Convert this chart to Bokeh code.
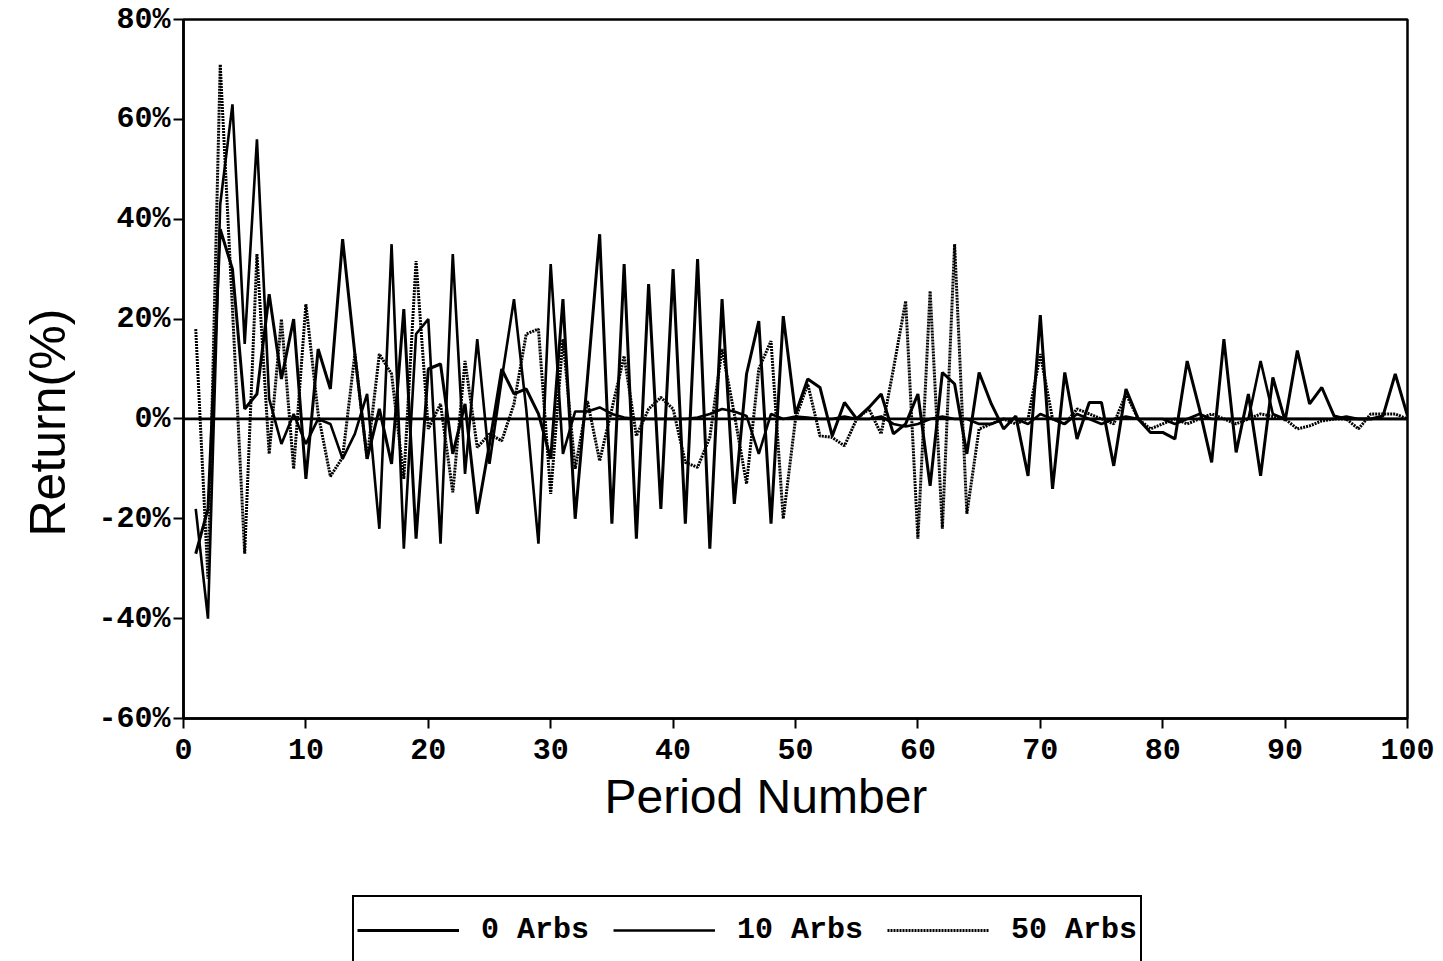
from bokeh.plotting import figure
from bokeh.layouts import column
from bokeh.models import Range1d, Span, Legend, LegendItem, PrintfTickFormatter, FixedTicker, Title
from bokeh.embed import file_html
from bokeh.resources import INLINE

periods = list(range(1, 101))

arbs0 = [-27, -18, 38, 30, 2, 5, 25, 8, 20, -12,
         14, 6, 36, 13, -8, 2, -9, 22, -24, 10,
         11, -7, 3, -19, -5, 10, 5, 6, 1, -8,
         24, -20, 8, 37, -21, 31, -24, 27, -18, 30,
         -21, 32, -26, 24, -17, 9, 19.6, -21, 20.6, 1,
         8, 6.3, -3.4, 3.3, 0, 2.3, 5, -3, -1, 5,
         -13.4, 9.3, 7, -7, 9.3, 3, -2, 0.6, -11.4, 20.8,
         -14, 9.3, -4, 3.3, 3.3, -9.4, 6, 0, -2.7, -2.7,
         -4, 11.6, 2, -8.7, 16, -6.7, 5, -11.4, 8.3, -0.4,
         13.7, 3, 6.3, 0.6, 0, 0, 0, 0.6, 9, 0.6]

arbs10 = [-18, -40, 43, 63, 15, 56, 4, -5, 1, -5,
          0, -1, -8, -3, 5, -22, 35, -26, 17, 20,
          -25, 33, -11, 16, -9, 8, 24, 2, -25, 31,
          -7, 1.5, 1.5, 2.3, 1, 0.3, 0, 0, 0, 0,
          0, 0.3, 1, 2, 1.5, 0.6, -7, 1, 0, 0.5,
          0.3, 0, 0, 0.5, 0, 0, 0.5, -1, -1.5, -1,
          0, 0.5, 0, 0, -1, -1, 0, 0, -1, 1,
          0, -1, 1, 0, -1, 0, 0.5, 0, 0, 0,
          -1, 0, 1, 0, 0, 0, 0, 11.6, 1, 0,
          0, 0, 0, 0, 0.5, 0, 0, 0, 0, 0]

arbs50 = [18, -32, 71, 22, -27, 33, -7, 20, -10, 23,
          1, -11.5, -7.7, 13, -8, 13, 9, -12, 31.6, -2,
          3, -14.7, 11.6, -5.7, -3, -4.4, 3, 17, 18, -15,
          16, -10, 3.6, -8.4, 2, 12.6, -3.4, 2, 4.3, 2,
          -8.7, -9.7, -3.7, 14, 1, -13, 10, 15.6, -20, 0,
          7, -3.4, -3.7, -5.4, 0, 2, -3, 10, 23.6, -24,
          25.6, -22, 35, -19, -2, -1, 0, -1, 0, 13,
          0, -1, 2, 1, 0, -1, 5, 0, -2, -1,
          0, -1, 0, 1, 0, -1, 0, 1, 0.5, 0,
          -2, -1.4, -0.4, 0, 0, -2, 1, 1, 1, 0]

series_labels = ["0 Arbs", "10 Arbs", "50 Arbs"]
series_values = [arbs0, arbs10, arbs50]
x_ticks = [0, 10, 20, 30, 40, 50, 60, 70, 80, 90, 100]
y_ticks = [-60, -40, -20, 0, 20, 40, 60, 80]

styles = [dict(line_color="black", line_width=3.0),
          dict(line_color="black", line_width=2.6),
          dict(line_color="black", line_width=3.0, line_dash="2 1")]

MAIN_H = 860
FRAME_LEFT = 183
p = figure(width=1443, height=MAIN_H, output_backend="svg", toolbar_location=None,
           x_range=Range1d(0, 100), y_range=Range1d(-60, 80),
           min_border_left=FRAME_LEFT, min_border_right=36, min_border_top=19,
           min_border_bottom=MAIN_H - 718)

p.grid.visible = False
p.outline_line_color = "black"
p.outline_line_width = 2.5
p.background_fill_color = "white"
p.border_fill_color = "white"

for vals, st in zip(series_values, styles):
    p.line(periods, vals, **st)

p.add_layout(Span(location=0, dimension="width", line_color="black", line_width=2.8))

for ax in (p.xaxis[0], p.yaxis[0]):
    ax.axis_line_width = 2.5
    ax.axis_line_color = "black"
    ax.major_tick_line_width = 2
    ax.major_tick_out = 10
    ax.major_tick_in = 0
    ax.minor_tick_out = 0
    ax.minor_tick_in = 0
    ax.major_label_text_font = "Liberation Mono"
    ax.major_label_text_font_style = "bold"
    ax.major_label_text_font_size = "30px"
    ax.major_label_text_color = "black"

p.xaxis.ticker = FixedTicker(ticks=x_ticks)
p.yaxis.ticker = FixedTicker(ticks=y_ticks)
p.yaxis.formatter = PrintfTickFormatter(format="%d%%")
p.xaxis.major_label_standoff = 10
p.yaxis.major_label_standoff = 3

ytitle = Title(text="Return(%)", align="left", offset=182, vertical_align="top",
               text_font="Liberation Sans", text_font_style="normal",
               text_font_size="50px", text_color="black", standoff=36)
p.add_layout(ytitle, "left")
xtitle = Title(text="Period Number", align="left", offset=421, vertical_align="top",
               text_font="Liberation Sans", text_font_style="normal",
               text_font_size="48px", text_color="black", standoff=16)
p.add_layout(xtitle, "below")

# legend panel (its frame is aligned with the main frame by the column layout);
# the lines drawn here lie outside its ranges and only feed the legend samples
LEG_H = 961 - MAIN_H
q = figure(width=1443, height=LEG_H, output_backend="svg", toolbar_location=None,
           x_range=Range1d(-3, -2), y_range=Range1d(-3, -2),
           x_axis_type=None, y_axis_type=None, min_border=0)
q.grid.visible = False
q.outline_line_color = None
rs = [q.line(periods, vals, **st) for vals, st in zip(series_values, styles)]
LEG_TOP = 897
LEG_BOX_H = 2 * 4 + 60
legend = Legend(items=[LegendItem(label=lab, renderers=[r]) for lab, r in zip(series_labels, rs)],
                orientation="horizontal",
                location=(352 - FRAME_LEFT, 961 - (LEG_TOP + LEG_BOX_H)),
                glyph_width=102, glyph_height=60, label_standoff=22, spacing=24,
                padding=3, margin=0,
                label_text_font="Liberation Mono", label_text_font_style="bold",
                label_text_font_size="30px", label_text_color="black",
                border_line_color="black", border_line_width=2, border_line_alpha=1.0,
                background_fill_color="white", background_fill_alpha=1.0)
q.add_layout(legend, "center")

layout = column(p, q, spacing=0)
open("out.html", "w").write(file_html(layout, INLINE))
